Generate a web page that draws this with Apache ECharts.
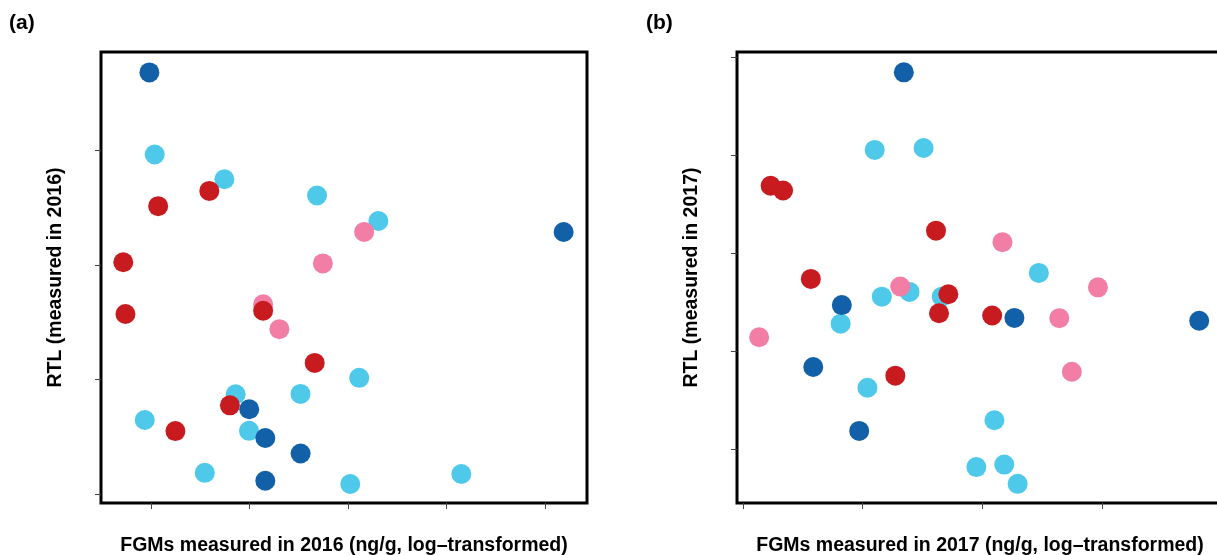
<!DOCTYPE html>
<html>
<head>
<meta charset="utf-8">
<style>
  html, body { margin: 0; padding: 0; background: #fff; overflow: hidden; }
  #chart { width: 1217px; height: 555px; }
</style>
<script src="https://cdn.jsdelivr.net/npm/echarts@6/dist/echarts.min.js"></script>
</head>
<body>
<div id="chart"></div>
<script>
// Panel (a): FGMs 2016 vs RTL 2016, [fgm, rtl] in axis units (tick labels hidden in source)
const a_lightBlue = [[1.037, 3.962], [1.744, 3.746], [2.684, 3.604], [3.306, 3.382], [3.112, 2.015],
  [2.516, 1.875], [1.858, 1.872], [0.936, 1.647], [1.994, 1.553], [1.545, 1.187], [3.021, 1.090], [4.148, 1.177]];
const a_pink = [[3.162, 3.287], [2.743, 3.012], [2.137, 2.656], [2.302, 2.439]];
const a_red = [[1.591, 3.644], [1.072, 3.511], [0.718, 3.022], [0.740, 2.571], [2.137, 2.600],
  [2.660, 2.145], [1.800, 1.775], [1.247, 1.551]];
const a_darkBlue = [[0.983, 4.677], [5.186, 3.286], [1.996, 1.741], [2.159, 1.491], [2.517, 1.355], [2.159, 1.118]];

// Panel (b): FGMs 2017 vs RTL 2017
const b_lightBlue = [[2.101, 4.057], [2.509, 4.077], [3.472, 2.801], [2.392, 2.607], [2.160, 2.559],
  [2.661, 2.559], [1.816, 2.283], [2.040, 1.629], [3.101, 1.297], [2.950, 0.819], [3.183, 0.844], [3.295, 0.648]];
const b_pink = [[3.168, 3.115], [2.314, 2.663], [3.966, 2.654], [3.643, 2.339], [1.135, 2.144], [3.748, 1.792]];
const b_red = [[1.231, 3.691], [1.335, 3.643], [2.613, 3.233], [1.567, 2.740], [2.716, 2.584],
  [2.638, 2.390], [3.082, 2.367], [2.273, 1.752]];
const b_darkBlue = [[2.344, 4.849], [1.826, 2.473], [3.268, 2.342], [4.812, 2.313], [1.587, 1.841], [1.971, 1.188]];

const a_xTicks = [1, 2, 3, 4, 5];
const a_yTicks = [1, 2, 3, 4];
const b_xTicks = [1, 2, 3, 4, 5];
const b_yTicks = [1, 2, 3, 4, 5];

const FONT = "'Liberation Sans', Arial, Helvetica, sans-serif";
const COLORS = { lightBlue: '#4ec9ea', pink: '#f27ea5', red: '#c81b20', darkBlue: '#1261a8' };

function xAxisOf(idx, min, max, ticks, name) {
  return {
    type: 'value', gridIndex: idx, min: min, max: max,
    splitLine: { show: false },
    axisLine: { show: false },
    axisTick: { show: true, customValues: ticks, length: 6, lineStyle: { color: '#444', width: 1 } },
    axisLabel: { show: false },
    name: name, nameLocation: 'middle', nameGap: 33,
    nameTextStyle: { fontFamily: FONT, fontSize: 19.5, fontWeight: 'bold', color: '#000' }
  };
}

function yAxisOf(idx, min, max, ticks, name) {
  return {
    type: 'value', gridIndex: idx, min: min, max: max,
    splitLine: { show: false },
    axisLine: { show: false },
    axisTick: { show: true, customValues: ticks, length: 6, lineStyle: { color: '#444', width: 1 } },
    axisLabel: { show: false },
    name: name, nameLocation: 'middle', nameGap: 35,
    nameTextStyle: { fontFamily: FONT, fontSize: 19.5, fontWeight: 'bold', color: '#000' }
  };
}

function dots(idx, data, color) {
  return {
    type: 'scatter', xAxisIndex: idx, yAxisIndex: idx, data: data,
    symbolSize: 20, itemStyle: { color: color, opacity: 1 },
    emphasis: { disabled: true }, silent: true
  };
}

const gridBase = { top: 52, height: 451, show: true, borderColor: '#000', borderWidth: 3,
  backgroundColor: 'transparent', outerBoundsMode: 'none' };

const chart = echarts.init(document.getElementById('chart'));
chart.setOption({
  animation: false,
  backgroundColor: '#fff',
  title: [
    { text: '(a)', left: 9, top: 13, padding: 0, textStyle: { fontFamily: FONT, fontSize: 21, fontWeight: 'bold', color: '#000' } },
    { text: '(b)', left: 646, top: 13, padding: 0, textStyle: { fontFamily: FONT, fontSize: 21, fontWeight: 'bold', color: '#000' } }
  ],
  grid: [
    Object.assign({ left: 101, width: 486 }, gridBase),
    // right edge of panel (b) falls just outside the picture
    Object.assign({ left: 737, width: 486 }, gridBase)
  ],
  xAxis: [
    xAxisOf(0, 0.492, 5.423, a_xTicks, 'FGMs measured in 2016 (ng/g, log–transformed)'),
    xAxisOf(1, 0.950, 5.011, b_xTicks, 'FGMs measured in 2017 (ng/g, log–transformed)')
  ],
  yAxis: [
    yAxisOf(0, 0.924, 4.855, a_yTicks, 'RTL (measured in 2016)'),
    yAxisOf(1, 0.452, 5.057, b_yTicks, 'RTL (measured in 2017)')
  ],
  series: [
    dots(0, a_lightBlue, COLORS.lightBlue),
    dots(0, a_pink, COLORS.pink),
    dots(0, a_red, COLORS.red),
    dots(0, a_darkBlue, COLORS.darkBlue),
    dots(1, b_lightBlue, COLORS.lightBlue),
    dots(1, b_pink, COLORS.pink),
    dots(1, b_red, COLORS.red),
    dots(1, b_darkBlue, COLORS.darkBlue)
  ]
});
</script>
</body>
</html>
